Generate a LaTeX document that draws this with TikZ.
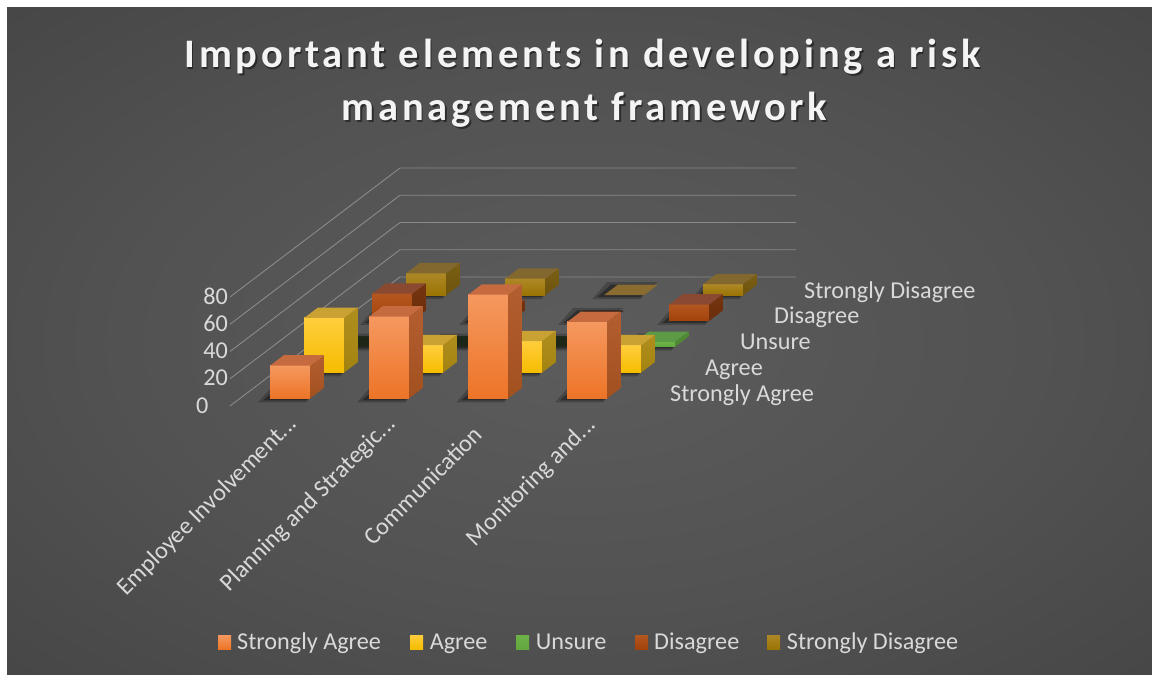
\documentclass[tikz,border=0pt]{standalone}
\usepackage{fontspec}
\setmainfont{Carlito}
\newfontfamily\titlefont[LetterSpace=9.5]{Carlito}
\definecolor{bgc1}{HTML}{5C5C5C}
\definecolor{bgc2}{HTML}{525252}
\definecolor{bgc3}{HTML}{3C3C3C}
\definecolor{bgc4}{HTML}{262626}
\definecolor{gridc}{HTML}{8A8A8A}
\definecolor{labelgray}{HTML}{D9D9D9}
\definecolor{titlec}{HTML}{F4F4F4}
% Strongly Agree
\definecolor{SAft}{HTML}{F5985F}\definecolor{SAfb}{HTML}{ED7427}
\definecolor{SAsdt}{HTML}{B35E30}\definecolor{SAsdb}{HTML}{A3501F}\definecolor{SAtp}{HTML}{C56B3F}
% Agree
\definecolor{Aft}{HTML}{FFCD3C}\definecolor{Afb}{HTML}{F5BD00}
\definecolor{Asdt}{HTML}{B08E1E}\definecolor{Asdb}{HTML}{A38310}\definecolor{Atp}{HTML}{C9A233}
% Unsure
\definecolor{Uft}{HTML}{6DB247}\definecolor{Ufb}{HTML}{63A83F}
\definecolor{Usdt}{HTML}{4D8A33}\definecolor{Usdb}{HTML}{4D8A33}\definecolor{Utp}{HTML}{5C9A45}
% Disagree
\definecolor{Dft}{HTML}{B4561F}\definecolor{Dfb}{HTML}{A1430A}
\definecolor{Dsdt}{HTML}{76340F}\definecolor{Dsdb}{HTML}{6A2D0A}\definecolor{Dtp}{HTML}{8A4A31}
% Strongly Disagree
\definecolor{SDft}{HTML}{AD8826}\definecolor{SDfb}{HTML}{9B7404}
\definecolor{SDsdt}{HTML}{7A5F14}\definecolor{SDsdb}{HTML}{6E540C}\definecolor{SDtp}{HTML}{82672F}
\definecolor{Uflat}{HTML}{1C2718}
\definecolor{Dflat}{HTML}{2A1C12}
\definecolor{SDflat}{HTML}{8A6C30}
\pgfdeclareradialshading{bgrad}{\pgfpoint{0bp}{0bp}}{color(0bp)=(bgc1); color(20bp)=(bgc2); color(50bp)=(bgc3); color(71bp)=(bgc4)}
\newcommand\barcoords[2]{%
  \pgfmathsetmacro\bx{260+#1*99+(#2+0.3)*34}%
  \pgfmathsetmacro\by{406-(#2+0.3)*25.8}%
}
\newcommand\barshadow[2]{%
  \barcoords{#1}{#2}%
  \fill[black,opacity=.22] (\bx-12,\by+4) -- (\bx+36,\by+4) -- (\bx+53,\by-13) -- (\bx+3,\by-13) -- cycle;
  \fill[black,opacity=.35] (\bx-7,\by+2) -- (\bx+36,\by+2) -- (\bx+50,\by-10.5) -- (\bx+7,\by-10.5) -- cycle;
}
\newcommand\barbox[4]{%
  \barcoords{#1}{#2}%
  \pgfmathsetmacro\bt{\by-#3*1.3625}%
  \shade[top color=#4ft,bottom color=#4fb] (\bx,\by) rectangle (\bx+40,\bt);
  \shade[top color=#4sdt,bottom color=#4sdb] (\bx+40,\by) -- (\bx+53.6,\by-10.32) -- (\bx+53.6,\bt-10.32) -- (\bx+40,\bt) -- cycle;
  \fill[#4tp] (\bx,\bt) -- (\bx+40,\bt) -- (\bx+53.6,\bt-10.32) -- (\bx+13.6,\bt-10.32) -- cycle;
}
\newcommand\flatbox[3]{%
  \barcoords{#1}{#2}%
  \fill[#3] (\bx,\by) -- (\bx+40,\by) -- (\bx+53.6,\by-10.32) -- (\bx+13.6,\by-10.32) -- cycle;
}
\tikzset{
  gridline/.style={draw=gridc,line width=0.9bp},
  lbl/.style={text=labelgray,font=\fontsize{24.2bp}{29bp}\selectfont,inner sep=0pt},
  titletext/.style={text=titlec,font=\titlefont\bfseries\fontsize{40.5bp}{53bp}\selectfont,inner sep=0pt},
  titleshadow/.style={text=black,opacity=.45,font=\titlefont\bfseries\fontsize{40.5bp}{53bp}\selectfont,inner sep=0pt},
}
\begin{document}
\begin{tikzpicture}[x=1bp,y=-1bp]
\useasboundingbox (0,0) rectangle (1152,675);
\fill[white] (0,0) rectangle (1152,675);
\shade[shading=bgrad] (7,8) rectangle (1152,675);
% gridlines
\foreach \k in {0,...,4}{
  \pgfmathsetmacro\gy{406-\k*27.25}
  \draw[gridline] (230,\gy) -- (400,\gy-129) -- (796,\gy-129);
}
% shadows
\foreach \i/\j in {0/4,1/4,2/4,3/4,0/3,1/3,2/3,3/3,0/2,1/2,2/2,3/2,0/1,1/1,2/1,3/1,0/0,1/0,2/0,3/0}{
  \barshadow{\i}{\j}
}
% row 4: Strongly Disagree
\barbox{0}{4}{16}{SD}
\barbox{1}{4}{12}{SD}
\flatbox{2}{4}{SDflat}
\barbox{3}{4}{8}{SD}
% row 3: Disagree
\barbox{0}{3}{20}{D}
\barbox{1}{3}{8}{D}
\flatbox{2}{3}{Dflat}
\barbox{3}{3}{12}{D}
% row 2: Unsure
\flatbox{0}{2}{Uflat}
\flatbox{1}{2}{Uflat}
\flatbox{2}{2}{Uflat}
\barbox{3}{2}{3.5}{U}
% row 1: Agree
\barbox{0}{1}{40}{A}
\barbox{1}{1}{20}{A}
\barbox{2}{1}{23}{A}
\barbox{3}{1}{20}{A}
% row 0: Strongly Agree
\barbox{0}{0}{24}{SA}
\barbox{1}{0}{60}{SA}
\barbox{2}{0}{76}{SA}
\barbox{3}{0}{56}{SA}
% title
\node[titleshadow,anchor=base] (t1s) at (584,69.3) {Important elements in developing a risk};
\node[titleshadow,anchor=base] (t2s) at (586,122.7) {management framework};
\node[titletext,anchor=base] (t1) at (582.5,67.3) {Important elements in developing a risk};
\node[titletext,anchor=base] (t2) at (584.5,120.7) {management framework};
% value axis
\node[lbl,anchor=base east] (v80) at (228,304.4) {80};
\node[lbl,anchor=base east] (v60) at (228,331.4) {60};
\node[lbl,anchor=base east] (v40) at (228,358.9) {40};
\node[lbl,anchor=base east] (v20) at (228,385.9) {20};
\node[lbl,anchor=base east] (v0) at (208.5,413) {0};
% series axis
\node[lbl,anchor=base west] (sSA) at (670,401) {Strongly Agree};
\node[lbl,anchor=base west] (sA) at (705,375) {Agree};
\node[lbl,anchor=base west] (sU) at (740,349.5) {Unsure};
\node[lbl,anchor=base west] (sD) at (774,323.5) {Disagree};
\node[lbl,anchor=base west] (sSD) at (804,298) {Strongly Disagree};
% category axis
\node[lbl,rotate=45,anchor=base east] (c1) at (298,425) {Employee Involvement...};
\node[lbl,rotate=45,anchor=base east] (c2) at (397,425) {Planning and Strategic...};
\node[lbl,rotate=45,anchor=base east] (c3) at (484,436) {Communication};
\node[lbl,rotate=45,anchor=base east] (c4) at (597,426) {Monitoring and...};
% legend
\shade[top color=SAft,bottom color=SAfb] (218,635) rectangle (231,649);
\node[lbl,anchor=base west] (l1) at (237,649) {Strongly Agree};
\shade[top color=Aft,bottom color=Afb] (410,635) rectangle (423,649);
\node[lbl,anchor=base west] (l2) at (429.6,649) {Agree};
\shade[top color=Uft,bottom color=Ufb] (516,635) rectangle (529,649);
\node[lbl,anchor=base west] (l3) at (535.7,649) {Unsure};
\shade[top color=Dft,bottom color=Dfb] (635,635) rectangle (648,649);
\node[lbl,anchor=base west] (l4) at (654,649) {Disagree};
\shade[top color=SDft,bottom color=SDfb] (767,635) rectangle (780,649);
\node[lbl,anchor=base west] (l5) at (786.7,649) {Strongly Disagree};
\end{tikzpicture}
\end{document}
